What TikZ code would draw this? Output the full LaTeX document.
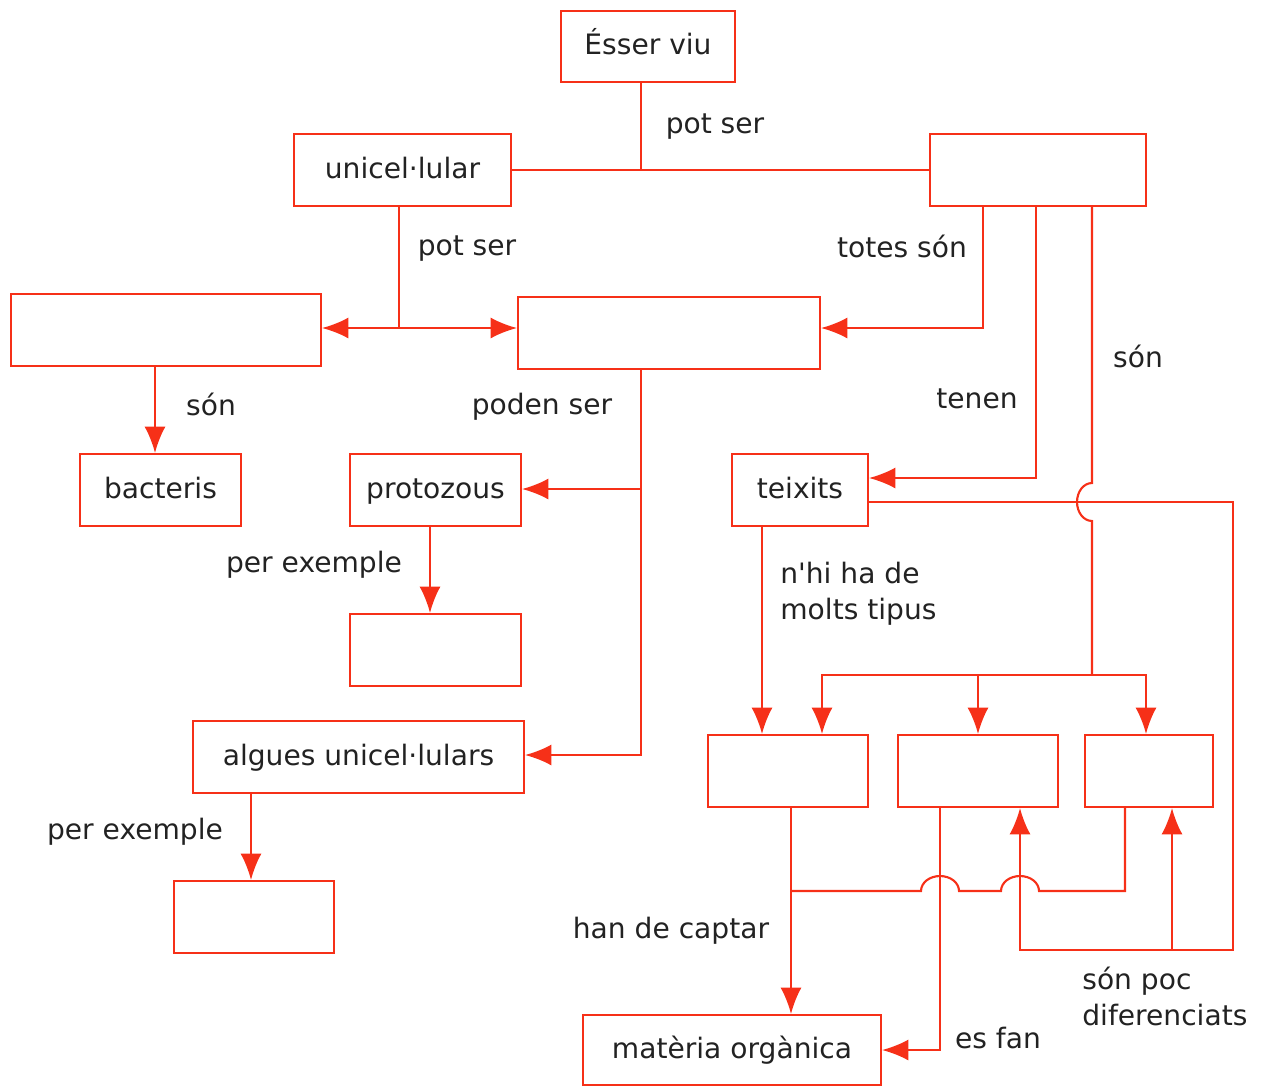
\documentclass[tikz,border=0pt]{standalone}
\usepackage{fontspec}
\setmainfont{DejaVu Sans}
\usetikzlibrary{arrows.meta}

\definecolor{cmred}{RGB}{246,48,24}
\definecolor{cmtext}{RGB}{34,34,34}

\begin{document}
\begin{tikzpicture}[x=0.02cm,y=-0.02cm,>={Latex[length=15pt,width=12pt]},
    box/.style={draw=cmred,line width=1.2pt,minimum height=72*0.02cm,inner sep=0pt,
        text height=11pt,text depth=1.4pt,font=\fontsize{16}{19}\selectfont,text=cmtext},
    link/.style={draw=cmred,line width=1.2pt},
    lbl/.style={font=\fontsize{16}{20.5}\selectfont,text=cmtext,inner sep=0pt,align=left}]

    \useasboundingbox (0,0) rectangle (1261,1086);

    \node[box,minimum width=174*0.02cm,minimum height=71*0.02cm] (esser) at (648,46.5) {Ésser viu};
    \node[box,minimum width=217*0.02cm] (unicel) at (402.5,170) {unicel·lular};
    \node[box,minimum width=216*0.02cm] (pluri) at (1038,170) {};
    \node[box,minimum width=310*0.02cm] (procar) at (166,330) {};
    \node[box,minimum width=302*0.02cm] (eucar) at (669,333) {};
    \node[box,minimum width=161*0.02cm] (bact) at (160.5,490) {bacteris};
    \node[box,minimum width=171*0.02cm] (proto) at (435.5,490) {protozous};
    \node[box,minimum width=136*0.02cm] (teix) at (800,490) {teixits};
    \node[box,minimum width=171*0.02cm] (protoex) at (435.5,650) {};
    \node[box,minimum width=331*0.02cm] (algues) at (358.5,757) {algues unicel·lulars};
    \node[box,minimum width=160*0.02cm] (alguesex) at (254,917) {};
    \node[box,minimum width=160*0.02cm] (tipa) at (788,771) {};
    \node[box,minimum width=160*0.02cm] (tipb) at (978,771) {};
    \node[box,minimum width=128*0.02cm] (tipc) at (1149,771) {};
    \node[box,minimum width=298*0.02cm,minimum height=70*0.02cm] (materia) at (732,1050) {matèria orgànica};

    \coordinate (j0) at (641,170);
    \coordinate (j1) at (399,328);
    \coordinate (j5) at (1092,675);
    \coordinate (j7) at (641,489);
    \coordinate (j11) at (1172,950);

    \draw[link] (esser.south -| j0) -- (j0);
    \draw[link] (unicel) -- (pluri);

    \draw[link] (unicel.south -| j1) -- (j1);
    \draw[link,->] (j1) -- (procar.east |- j1);
    \draw[link,->] (j1) -- (eucar.west |- j1);

    \draw[link,->] (pluri.south -| 983,0) |- (eucar.east |- j1);
    \draw[link,->] (pluri.south -| 1036,0) |- (teix.east |- 0,478);
    \draw[link] (pluri.south -| j5) -- (1092,483) arc[start angle=90,end angle=270,x radius=0.3cm,y radius=0.38cm] -- (j5);
    \draw[link,->] (j5) -| (tipa.north -| 822,0);
    \draw[link,->] (j5) -| (tipc.north -| 1146,0);
    \draw[link,->] (tipb.north |- j5) -- (tipb.north);

    \draw[link,->] (procar.south -| 155,0) -- (bact.north -| 155,0);
    \draw[link,->] (eucar.south -| j7) |- (algues.east |- 0,755);
    \draw[link,->] (j7) -- (proto.east |- j7);
    \draw[link,->] (proto.south -| 430,0) -- (protoex.north -| 430,0);
    \draw[link,->] (algues.south -| 251,0) -- (alguesex.north -| 251,0);

    \draw[link,->] (teix.south -| 762,0) -- (tipa.north -| 762,0);
    \draw[link,->] (teix.east |- 0,502) -| (1233,950) -| (tipb.south -| 1020,0);
    \draw[link,->] (j11) -- (tipc.south -| j11);

    \draw[link,->] (tipa.south -| 791,0) -- (materia.north -| 791,0);
    \draw[link] (tipc.south -| 1125,0) |- (1039,891)
        arc[start angle=0,end angle=180,x radius=0.38cm,y radius=0.3cm] -- (959,891)
        arc[start angle=0,end angle=180,x radius=0.38cm,y radius=0.3cm] -- (791,891);
    \draw[link,->] (tipb.south -| 940,0) |- (materia.east);

    \node[lbl] at (715,127) {pot ser};
    \node[lbl] at (467,249) {pot ser};
    \node[lbl] at (902,246) {totes són};
    \node[lbl] at (977,399) {tenen};
    \node[lbl] at (1138,356) {són};
    \node[lbl] at (211,404) {són};
    \node[lbl] at (542,407) {poden ser};
    \node[lbl] at (314,565) {per exemple};
    \node[lbl] at (135,832) {per exemple};
    \node[lbl,anchor=west] at (780,594) {n\textquotesingle hi ha de\\molts tipus};
    \node[lbl] at (671,931) {han de captar};
    \node[lbl,anchor=west] at (1082,996) {són poc\\diferenciats};
    \node[lbl] at (998,1038) {es fan};

\end{tikzpicture}
\end{document}
